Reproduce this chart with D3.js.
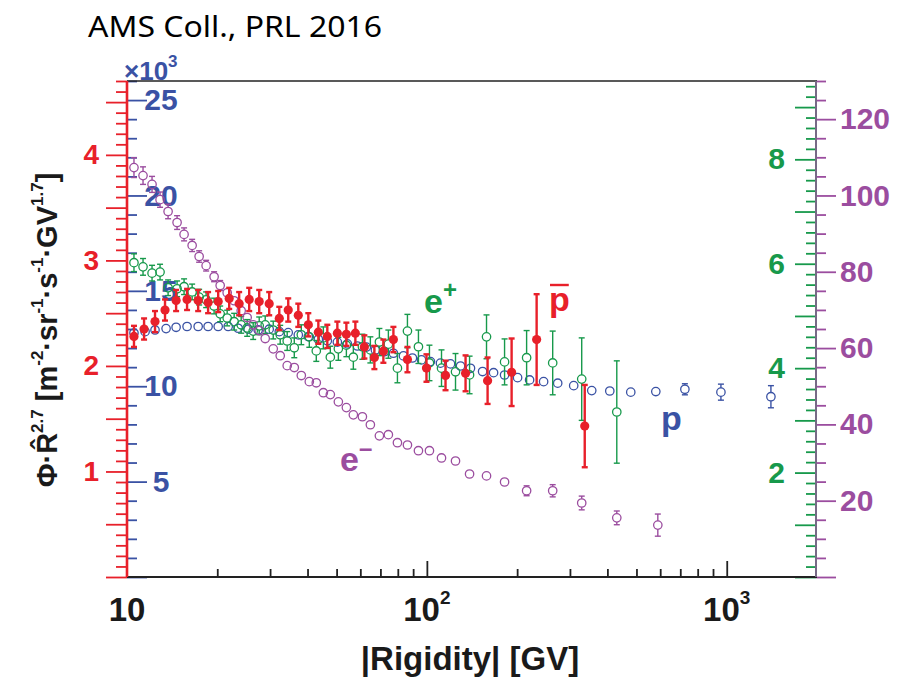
<!DOCTYPE html>
<html>
<head>
<meta charset="utf-8">
<script src="https://cdn.jsdelivr.net/npm/d3@7"></script>
<style>
  body { margin: 0; background: #fff; }
  svg { display: block; }
</style>
</head>
<body>
<div id="chart"></div>
<script>
// ---- data ----
// lepton energy bins shared by e- and e+
const leptonRigidity = [10.55, 11.31, 12.12, 12.89, 13.71, 14.69, 15.50, 16.49, 17.40, 18.36,
  19.52, 20.45, 21.58, 22.77, 24.03, 25.16, 26.35, 27.60, 28.90, 30.74,
  32.43, 34.22, 36.13, 38.13, 40.55, 42.78, 45.16, 47.65, 50.68, 53.90,
  56.86, 60.95, 64.80, 69.45, 74.41, 79.77, 86.14, 93.74, 102.0, 111.9,
  124.6, 138.8, 158.1, 181.6, 215.1, 262.8, 328.4, 429.9, 589.1];

const electronFlux = [107.3, 105.2, 102.9, 98.9, 95.8, 92.9, 89.8, 86.9, 84.0, 81.6,
  78.7, 76.4, 74.5, 72.4, 69.8, 68.0, 66.1, 64.6, 62.5, 59.8,
  58.0, 55.4, 54.9, 52.8, 51.2, 50.9, 48.3, 47.8, 45.9, 44.4,
  42.5, 42.0, 39.9, 37.0, 37.3, 35.2, 34.6, 33.1, 33.1, 31.2,
  30.4, 27.0, 26.5, 24.9, 22.6, 22.6, 19.4, 15.5, 13.6];
const electronErr = [2.6, 2.3, 2.1, 2.0, 1.9, 1.8, 1.7, 1.6, 1.5, 1.4,
  1.3, 1.3, 1.2, 1.2, 1.1, 1.1, 1.0, 1.0, 1.0, 0.9,
  0.9, 0.9, 0.8, 0.8, 0.8, 0.8, 0.8, 0.8, 0.8, 0.8,
  0.8, 0.8, 0.8, 0.8, 0.8, 0.8, 0.8, 0.8, 0.8, 0.9,
  0.9, 1.0, 1.0, 1.1, 1.3, 1.6, 1.8, 1.8, 2.9];

// positrons: same bins, one fewer at the top end
const positronFlux = [6.02, 5.94, 5.82, 5.84, 5.54, 5.52, 5.56, 5.46, 5.36, 5.31,
  5.19, 5.04, 4.96, 4.89, 4.83, 4.77, 4.71, 4.81, 4.83, 4.73,
  4.64, 4.52, 4.39, 4.64, 4.60, 4.33, 4.58, 4.21, 4.37, 4.44,
  4.21, 4.41, 4.35, 4.50, 4.46, 4.00, 4.71, 4.41, 4.10, 4.00,
  3.93, 3.87, 4.60, 4.12, 4.20, 4.10, 3.79, 3.16];
const positronErr = [0.17, 0.16, 0.15, 0.15, 0.15, 0.15, 0.15, 0.15, 0.15, 0.15,
  0.15, 0.15, 0.15, 0.16, 0.16, 0.16, 0.16, 0.17, 0.17, 0.17,
  0.18, 0.18, 0.19, 0.19, 0.20, 0.20, 0.21, 0.21, 0.22, 0.22,
  0.23, 0.24, 0.25, 0.26, 0.27, 0.28, 0.32, 0.32, 0.34, 0.35,
  0.35, 0.36, 0.42, 0.44, 0.52, 0.61, 0.79, 0.98];

const pbarRigidity = [10.55, 11.40, 12.40, 13.39, 14.58, 15.86, 17.27, 18.64, 20.14, 21.92,
  23.66, 25.56, 27.60, 29.80, 32.20, 34.49, 37.26, 40.24, 43.46, 46.56,
  50.29, 53.90, 57.75, 61.89, 66.83, 71.61, 77.34, 86.14, 99.70, 115.4,
  134.6, 159.4, 191.7, 232.3, 336.1];
const pbarFlux = [2.28, 2.35, 2.42, 2.53, 2.62, 2.63, 2.62, 2.60, 2.61, 2.64,
  2.59, 2.63, 2.61, 2.59, 2.45, 2.53, 2.48, 2.39, 2.32, 2.28,
  2.31, 2.30, 2.31, 2.18, 2.08, 2.14, 2.25, 2.06, 1.98, 1.91,
  1.93, 1.86, 1.94, 2.25, 1.43];
const pbarErr = [0.10, 0.10, 0.10, 0.10, 0.10, 0.10, 0.10, 0.10, 0.10, 0.10,
  0.11, 0.11, 0.11, 0.11, 0.11, 0.11, 0.11, 0.11, 0.11, 0.11,
  0.11, 0.11, 0.11, 0.11, 0.11, 0.11, 0.12, 0.12, 0.13, 0.14,
  0.17, 0.22, 0.32, 0.43, 0.39];

const protonRigidity = [10.55, 11.49, 12.40, 13.50, 14.58, 15.86, 17.27, 18.64, 20.14, 21.75,
  23.48, 25.36, 27.38, 29.80, 32.20, 34.49, 37.26, 40.24, 43.46, 46.56,
  50.29, 54.31, 58.65, 62.85, 67.35, 72.17, 77.34, 83.53, 89.50, 95.94,
  102.8, 111.0, 119.9, 129.5, 139.8, 153.4, 166.9, 181.6, 200.7, 220.1,
  245.1, 273.1, 308.8, 354.7, 407.4, 478.6, 580.1, 725.2, 956.4, 1404];
const protonFlux = [12790, 12860, 12950, 13020, 13090, 13130, 13130, 13130, 13130, 13130,
  13040, 12990, 12950, 12990, 12860, 12810, 12690, 12600, 12460, 12380,
  12310, 12220, 12110, 12050, 11900, 11810, 11730, 11590, 11480, 11380,
  11290, 11210, 11170, 11060, 10940, 10770, 10710, 10590, 10450, 10330,
  10240, 10160, 10030, 9770, 9750, 9690, 9720, 9840, 9690, 9450];
const protonErr = [40, 40, 40, 40, 40, 40, 40, 40, 40, 40,
  40, 40, 40, 40, 40, 40, 40, 40, 40, 40,
  50, 50, 50, 50, 50, 50, 50, 50, 50, 50,
  60, 60, 60, 60, 60, 60, 60, 70, 70, 70,
  80, 80, 90, 100, 110, 120, 200, 290, 420, 580];

const xTickValues = [10, 100, 1000];
const xTickExponents = ['', '2', '3'];
const xMinorTicks = [20, 30, 40, 50, 60, 70, 80, 90, 200, 300, 400, 500, 600, 700, 800, 900];

const COLORS = {
  pbar: '#e8202a',
  proton: '#3a52a4',
  positron: '#17994b',
  electron: '#9b4d9f',
  frame: '#222',
};
const FONT = '"Liberation Sans", Arial, Helvetica, sans-serif';

// ---- layout ----
const W = 903, H = 686;
const plot = { left: 127, right: 817, top: 81, bottom: 577 };

const svg = d3.select('#chart').append('svg')
  .attr('width', W).attr('height', H)
  .attr('font-family', FONT);
svg.append('rect').attr('width', W).attr('height', H).attr('fill', '#fff');

const x = d3.scaleLog().domain([10, 2000]).range([plot.left, plot.right]);
const yPbar = d3.scaleLinear().domain([0, 4.7]).range([plot.bottom, plot.top]);
const yProton = d3.scaleLinear().domain([0, 26000]).range([plot.bottom, plot.top]);
const yPositron = d3.scaleLinear().domain([0, 9.5]).range([plot.bottom, plot.top]);
const yElectron = d3.scaleLinear().domain([0, 130]).range([plot.bottom, plot.top]);

function styleAxis(g, color, size) {
  g.select('.domain').remove();
  g.selectAll('line').attr('stroke', color).attr('stroke-width', 1.8);
  g.selectAll('text').attr('fill', color).attr('font-size', size)
    .attr('font-weight', 'bold').attr('font-family', FONT);
}

// minor + major tick helper
function ticksAxis(axisFn, scale, tx, values, size, color, fmt, fontSize, pad) {
  const g = svg.append('g').attr('transform', `translate(${tx},0)`)
    .call(axisFn(scale).tickValues(values).tickSize(size).tickPadding(pad || 3)
      .tickFormat(fmt || (() => '')));
  styleAxis(g, color, fontSize || 10);
  return g;
}

// red (pbar) axis on the left, ticks outward
const redMajor = d3.range(0, 10).map(i => i * 0.5);
const redMinor = d3.range(0, 48).filter(i => i % 5 !== 0).map(i => i / 10);
ticksAxis(d3.axisLeft, yPbar, plot.left, redMinor, 11, COLORS.pbar);
ticksAxis(d3.axisLeft, yPbar, plot.left, redMajor, 21, COLORS.pbar,
  d => (d > 0 && Number.isInteger(d) ? d : ''), 28, 7);

// blue (proton) axis, ticks inward
const blueMinor = d3.range(0, 27).filter(i => i % 5 !== 0).map(i => i * 1000);
const blueMajor = d3.range(0, 6).map(i => i * 5000);
ticksAxis(d3.axisRight, yProton, plot.left, blueMinor, 10, COLORS.proton);
const blueAx = ticksAxis(d3.axisRight, yProton, plot.left, blueMajor, 20, COLORS.proton,
  d => (d > 0 ? d / 1000 : ''), 30, 3);
blueAx.selectAll('text').attr('x', 34).attr('text-anchor', 'middle');

// green (positron) axis on the right, ticks inward
const greenMinor = d3.range(0, 48).filter(i => i % 5 !== 0).map(i => i / 5);
const greenMajor = d3.range(0, 10);
ticksAxis(d3.axisLeft, yPositron, plot.right - 1, greenMinor, 10, COLORS.positron);
ticksAxis(d3.axisLeft, yPositron, plot.right - 1, greenMajor, 21, COLORS.positron,
  d => (d > 0 && d % 2 === 0 ? d : ''), 30, 10);

// purple (electron) axis on the right, ticks outward
const purpleMinor = d3.range(0, 131, 5).filter(v => v % 20 !== 0);
const purpleMajor = d3.range(0, 121, 20);
ticksAxis(d3.axisRight, yElectron, plot.right - 1, purpleMinor, 10, COLORS.electron);
ticksAxis(d3.axisRight, yElectron, plot.right - 1, purpleMajor, 20, COLORS.electron,
  d => (d > 0 ? d : ''), 30, 4);

// x axis: ticks point up into the frame
const xAxisG = svg.append('g').attr('transform', `translate(0,${plot.bottom})`);
xAxisG.append('g').call(d3.axisBottom(x).tickValues(xMinorTicks).tickSize(-8).tickFormat(() => ''))
  .call(g => styleAxis(g, COLORS.frame, 10));
xAxisG.append('g').call(d3.axisBottom(x).tickValues(xTickValues.slice(1)).tickSize(-16).tickFormat(() => ''))
  .call(g => styleAxis(g, COLORS.frame, 10));

xTickValues.forEach((v, i) => {
  const t = svg.append('text')
    .attr('x', x(v)).attr('y', 621)
    .attr('text-anchor', 'middle')
    .attr('font-size', 33).attr('font-weight', 'bold').attr('fill', '#1a1a1a');
  t.append('tspan').text('10');
  if (xTickExponents[i]) {
    t.append('tspan').attr('dy', -17).attr('font-size', 19).text(xTickExponents[i]);
  }
});

// frame lines
svg.append('line').attr('x1', plot.left).attr('x2', plot.right).attr('y1', plot.top).attr('y2', plot.top)
  .attr('stroke', COLORS.frame).attr('stroke-width', 1.6);
svg.append('line').attr('x1', plot.left).attr('x2', plot.right).attr('y1', plot.bottom).attr('y2', plot.bottom)
  .attr('stroke', COLORS.frame).attr('stroke-width', 2.2);
svg.append('line').attr('x1', plot.right - 1).attr('x2', plot.right - 1).attr('y1', plot.top).attr('y2', plot.bottom)
  .attr('stroke', '#776a86').attr('stroke-width', 2);
svg.append('line').attr('x1', plot.left).attr('x2', plot.left).attr('y1', plot.top).attr('y2', plot.bottom)
  .attr('stroke', COLORS.pbar).attr('stroke-width', 2.6);

// ---- data series ----
function drawSeries(rig, vals, errs, yScale, color, o) {
  const pts = vals.map((v, i) => ({ r: rig[i], v, e: errs[i] }));
  const g = svg.append('g');
  const gap = o.filled ? 0 : o.r;
  const bars = g.append('g').attr('stroke', color).attr('stroke-width', o.barW);
  pts.forEach(d => {
    const cx = x(d.r), cy = yScale(d.v);
    const yt = yScale(d.v + d.e), yb = yScale(d.v - d.e);
    if (cy - yt > gap + 0.5) {
      bars.append('line').attr('x1', cx).attr('x2', cx).attr('y1', yt).attr('y2', cy - gap);
      bars.append('line').attr('x1', cx - o.cap).attr('x2', cx + o.cap).attr('y1', yt).attr('y2', yt);
    }
    if (yb - cy > gap + 0.5) {
      bars.append('line').attr('x1', cx).attr('x2', cx).attr('y1', cy + gap).attr('y2', yb);
      bars.append('line').attr('x1', cx - o.cap).attr('x2', cx + o.cap).attr('y1', yb).attr('y2', yb);
    }
  });
  g.append('g').selectAll('circle').data(pts).join('circle')
    .attr('cx', d => x(d.r)).attr('cy', d => yScale(d.v))
    .attr('r', o.r)
    .attr('fill', o.filled ? color : 'none')
    .attr('stroke', color)
    .attr('stroke-width', o.filled ? 0 : o.sw);
}

drawSeries(protonRigidity, protonFlux, protonErr, yProton, COLORS.proton, { r: 4.2, sw: 1.3, barW: 1.4, cap: 3 });
drawSeries(leptonRigidity, positronFlux, positronErr, yPositron, COLORS.positron, { r: 4.2, sw: 1.3, barW: 1.4, cap: 3 });
drawSeries(leptonRigidity, electronFlux, electronErr, yElectron, COLORS.electron, { r: 4.2, sw: 1.3, barW: 1.4, cap: 3 });
drawSeries(pbarRigidity, pbarFlux, pbarErr, yPbar, COLORS.pbar, { r: 4.6, filled: true, barW: 2.4, cap: 3 });

// ---- texts ----
svg.append('text').attr('x', 88).attr('y', 37)
  .attr('font-family', '"Comic Sans MS", "Noto Sans", sans-serif')
  .attr('font-size', 29).attr('fill', '#000')
  .attr('textLength', 294).attr('lengthAdjust', 'spacingAndGlyphs')
  .text('AMS Coll., PRL 2016');

const mult = svg.append('text').attr('x', 124).attr('y', 80)
  .attr('font-size', 26).attr('font-weight', 'bold').attr('fill', COLORS.proton);
mult.append('tspan').text('\u00d710');
mult.append('tspan').attr('dy', -13).attr('font-size', 17).text('3');

svg.append('text').attr('x', 470).attr('y', 670)
  .attr('text-anchor', 'middle').attr('font-size', 33).attr('font-weight', 'bold').attr('fill', '#1a1a1a')
  .text('|Rigidity| [GV]');

// y title
const yt = svg.append('text')
  .attr('transform', 'translate(57,330) rotate(-90)')
  .attr('text-anchor', 'middle')
  .attr('font-size', 29).attr('font-weight', 'bold').attr('fill', '#1a1a1a');
const ySegs = [
  ['\u03a6\u00b7R\u0302', 0], ['2.7', 1], [' [m', 0], ['-2', 1], ['\u00b7sr', 0], ['-1', 1],
  ['\u00b7s', 0], ['-1', 1], ['\u00b7GV', 0], ['1.7', 1], [']', 0],
];
let lift = 0;
ySegs.forEach(([s, sup]) => {
  const dy = sup ? -14 - lift : (lift ? 14 : 0);
  lift = sup ? 14 : 0;
  yt.append('tspan').attr('dy', dy).attr('font-size', sup ? 17 : 29).text(s);
});

// series labels
function seriesLabel(px, py, base, sup, color) {
  const t = svg.append('text').attr('x', px).attr('y', py)
    .attr('font-size', 34).attr('font-weight', 'bold').attr('fill', color);
  t.append('tspan').text(base);
  if (sup) t.append('tspan').attr('dy', -15).attr('font-size', 24).text(sup);
  return t;
}
seriesLabel(424, 313, 'e', '+', COLORS.positron);
seriesLabel(340, 471, 'e', '\u2013', COLORS.electron);
seriesLabel(661, 430, 'p', '', COLORS.proton);
const pb = seriesLabel(549, 311, 'p', '', COLORS.pbar);
const bb = pb.node().getBBox();
svg.append('line').attr('x1', bb.x + 1).attr('x2', bb.x + bb.width - 1)
  .attr('y1', 285).attr('y2', 285).attr('stroke', COLORS.pbar).attr('stroke-width', 2.4);
</script>
</body>
</html>
